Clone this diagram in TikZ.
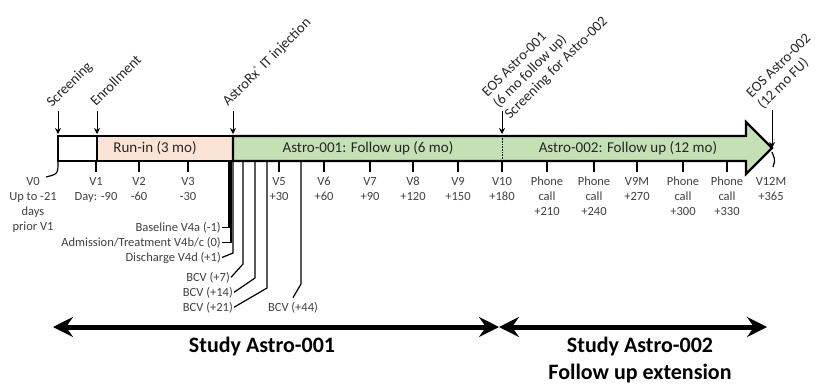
\documentclass[tikz,border=0pt]{standalone}
\usepackage{fontspec}
\setmainfont{Carlito}
\usetikzlibrary{arrows.meta}
\definecolor{runin}{RGB}{251,228,214}
\definecolor{followup}{RGB}{197,224,180}
\definecolor{inkgray}{RGB}{64,64,64}

\begin{document}
\begin{tikzpicture}[x=1pt, y=-1pt,
    every node/.style={inner sep=0pt, text=inkgray},
    barlabel/.style={font=\fontsize{15}{18}\selectfont, text=black!85},
    visit/.style={anchor=north, align=center, font=\fontsize{12.5}{15}\selectfont},
    note/.style={font=\fontsize{12.5}{15}\selectfont},
    event/.style={anchor=base west, rotate=45, align=left, font=\fontsize{14.5}{16}\selectfont, text=black!85},
    study/.style={anchor=base, align=center, text=black, font=\fontsize{22}{27}\selectfont\bfseries},
    pointer/.style={line width=1pt, -{Stealth[length=6pt, width=6pt]}},
    tick/.style={line width=1.2pt},
    span/.style={line width=5pt, {Stealth[length=20pt, width=20pt, inset=7pt]}-{Stealth[length=20pt, width=20pt, inset=7pt]}}]
  \useasboundingbox (0,0) rectangle (819,384);

  \draw[line width=2.2pt] (58,136) rectangle (97,161);
  \draw[line width=2.2pt, fill=runin] (97,136) rectangle (233,161);
  \draw[line width=2.2pt, fill=followup, line join=miter] (233,136) -- (746,136) -- (746,122) -- (772,148) -- (746,174) -- (746,161) -- (233,161) -- cycle;
  \draw[densely dotted, line width=0.6pt] (502,136) -- (502,161);
  \node[barlabel] (runin) at (155,148) {Run-in (3 mo)};
  \node[barlabel] (follow1) at (368,148) {Astro-001: Follow up (6 mo)};
  \node[barlabel] (follow2) at (628,148) {Astro-002: Follow up (12 mo)};

  \coordinate (scr) at (58,134);
  \coordinate (enr) at (97,134);
  \coordinate (inj) at (233,134);
  \coordinate (eos) at (502,134);
  \coordinate (tip) at (772,148);
  \node[event] (screening) at (52,108) {Screening};
  \node[event] (enrollment) at (96,107) {Enrollment};
  \node[event] (injection) at (228,107) {AstroRx{\fontsize{8}{8}\selectfont\raisebox{5pt}{®}} IT injection};
  \node[event] (eos1) at (510,120) {EOS Astro-001\\(6 mo follow up)\\Screening for Astro-002};
  \node[event] (eos2) at (763,110) {EOS Astro-002\\(12 mo FU)};
  \draw[pointer] ([yshift=23pt]scr) -- (scr);
  \draw[pointer] ([yshift=23pt]enr) -- (enr);
  \draw[pointer] ([yshift=23pt]inj) -- (inj);
  \draw[pointer] ([yshift=23pt]eos) -- (eos);
  \draw[pointer] ([yshift=38pt]tip) -- (tip);

  \foreach \x/\id/\txt in {96/v1/{V1\\Day: -90}, 139/v2/{V2\\-60}, 188/v3/{V3\\-30},
      279/v5/{V5\\+30}, 324/v6/{V6\\+60}, 370/v7/{V7\\+90}, 413/v8/{V8\\+120},
      458/v9/{V9\\+150}, 502/v10/{V10\\+180}, 547/p210/{Phone\\call\\+210},
      594/p240/{Phone\\call\\+240}, 637/v9m/{V9M\\+270}, 683/p300/{Phone\\call\\+300},
      727/p330/{Phone\\call\\+330}}{
    \node[visit] (\id) at (\x,177) {\txt};
    \draw[tick] (\x,161) -- ([yshift=5pt]\id.north);
  }
  \node[visit] (v0) at (33,177) {V0\\Up to -21\\days\\prior V1};
  \draw[tick] (58,161) .. controls (58,174) .. ([xshift=13pt]v0.north);
  \node[visit] (v12) at (771,177) {V12M\\+365};
  \draw[tick, rounded corners=2pt] ([yshift=-4pt]tip) -- ++(3,8) -- ([xshift=2pt,yshift=10pt]v12.north);

  \node[note, anchor=base east] (v4a) at (221,231) {Baseline V4a (-1)};
  \node[note, anchor=base east] (v4b) at (221,246) {Admission/Treatment V4b/c (0)};
  \node[note, anchor=base east] (v4d) at (221,261) {Discharge V4d (+1)};
  \node[note, anchor=base east] (bcv7) at (230,281) {BCV (+7)};
  \node[note, anchor=base east] (bcv14) at (233,296) {BCV (+14)};
  \node[note, anchor=base east] (bcv21) at (233,311) {BCV (+21)};
  \node[note, anchor=base] (bcv44) at (293,311) {BCV (+44)};
  \draw[tick] ([xshift=1pt]v4a.east) -| (229,161);
  \draw[tick] ([xshift=1pt]v4b.east) -| (231,161);
  \draw[tick] ([xshift=1pt]v4d.east) -- (233,253) -- (233,161);
  \draw[tick] ([xshift=1pt]bcv7.east) -- (243,264) -- (243,161);
  \draw[tick] ([xshift=1pt]bcv14.east) -- (255,278) -- (255,161);
  \draw[tick] ([xshift=1pt]bcv21.east) -- (267,288) -- (267,161);
  \draw[tick] ([yshift=4pt]bcv44.north) -- (301,284) -- (301,161);

  \coordinate (s0) at (53,327);
  \coordinate (s1) at (499,327);
  \coordinate (s2) at (767,327);
  \draw[span] (s0) -- (s1);
  \draw[span] (s1) -- (s2);
  \node[study] (astro1) at (262,352) {Study Astro-001};
  \node[study] (astro2) at (640,379) {Study Astro-002\\Follow up extension};
\end{tikzpicture}
\end{document}
